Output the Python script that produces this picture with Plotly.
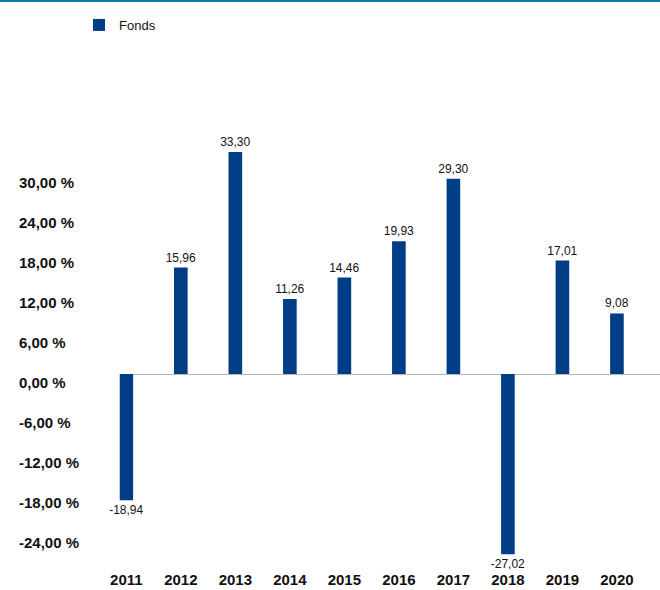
import plotly.graph_objects as go

years = ["2011", "2012", "2013", "2014", "2015", "2016", "2017", "2018", "2019", "2020"]
fonds = [-18.94, 15.96, 33.30, 11.26, 14.46, 19.93, 29.30, -27.02, 17.01, 9.08]
y_ticks = [-24, -18, -12, -6, 0, 6, 12, 18, 24, 30]
y_tick_labels = [f"{v:.2f}".replace(".", ",") + " %" for v in y_ticks]
value_labels = [f"{v:.2f}".replace(".", ",") for v in fonds]

W, H = 660, 590
plot_left, plot_right = 119.5, 660
plot_top, plot_bottom = 100, 569
zero_px = 374
px_per_unit = 40 / 6
y_max = (zero_px - plot_top) / px_per_unit
y_min = -(plot_bottom - zero_px) / px_per_unit

bar_color = "#003d87"
font_family = "Liberation Sans, Arial, sans-serif"

fig = go.Figure()
fig.add_trace(go.Bar(
    x=list(range(len(years))),
    y=fonds,
    name="Fonds",
    marker=dict(color=bar_color, line=dict(width=0)),
    width=0.25,
    text=value_labels,
    textposition="outside",
    textfont=dict(size=12, color="#111111", family=font_family),
    constraintext="none",
    cliponaxis=False,
))

fig.update_layout(
    width=W, height=H,
    margin=dict(l=0, r=0, t=0, b=0, autoexpand=False),
    paper_bgcolor="white",
    plot_bgcolor="white",
    font=dict(family=font_family, color="#111111"),
    showlegend=True,
    legend=dict(
        x=79 / W, y=1 - 10 / H, xanchor="left", yanchor="top",
        font=dict(size=13, color="#111111"),
        bgcolor="rgba(0,0,0,0)",
    ),
    xaxis=dict(
        domain=[plot_left / W, plot_right / W],
        range=[-0.125, 9.79],
        tickmode="array",
        tickvals=list(range(len(years))),
        ticktext=years,
        tickfont=dict(size=15, weight="bold"),
        showgrid=False, zeroline=False, showline=False, ticks="",
        anchor="y", automargin=False,
    ),
    yaxis=dict(
        domain=[1 - plot_bottom / H, 1 - plot_top / H],
        range=[y_min, y_max],
        tickmode="array",
        tickvals=y_ticks,
        ticktext=y_tick_labels,
        tickfont=dict(size=15, weight="bold"),
        showgrid=False,
        zeroline=True, zerolinecolor="#b4b4b4", zerolinewidth=1,
        showline=False, ticks="",
        anchor="free", position=18 / W, side="right",
        ticklabelshift=9, automargin=False,
    ),
    shapes=[dict(
        type="line", xref="paper", yref="paper",
        x0=0, x1=1, y0=1 - 1 / H, y1=1 - 1 / H,
        line=dict(color="#0a78a8", width=2),
    )],
)

fig.write_html("out.html", post_script="document.body.style.margin='0';",
               config={"displayModeBar": False})
